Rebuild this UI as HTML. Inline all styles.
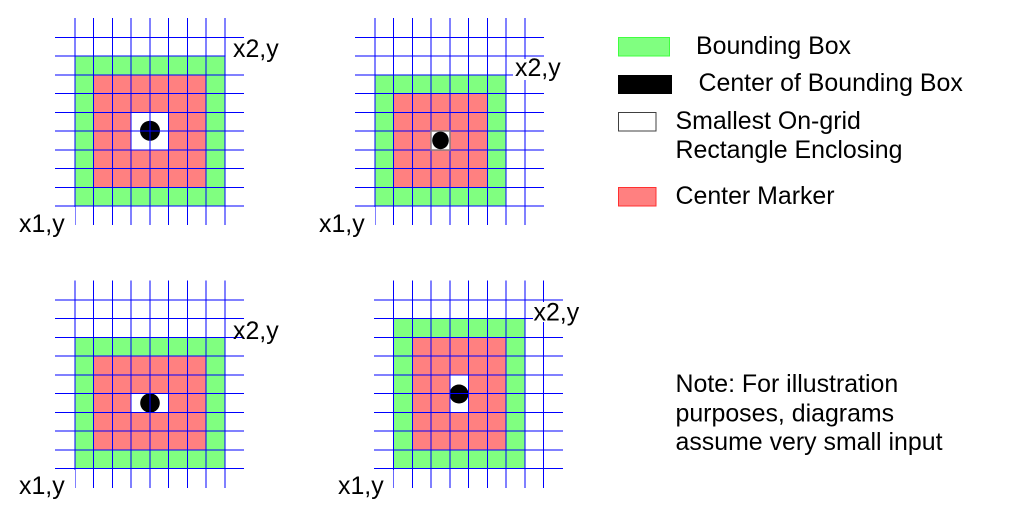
<!DOCTYPE html>
<html><head><meta charset="utf-8"><style>
html,body{margin:0;padding:0;background:#fff;width:1018px;height:509px;overflow:hidden}
svg{display:block}
text{font-family:"Liberation Sans",sans-serif;font-size:24.9px;fill:#000}
.g{fill:#80ff80}.r{fill:#ff8080}.w{fill:#fff}
.l{stroke:#0000ff;stroke-width:1;fill:none}
</style></head><body>
<svg width="1018" height="509" viewBox="0 0 1018 509" xmlns="http://www.w3.org/2000/svg">
<!-- Panel 1 -->
<rect class="g" x="75" y="56" width="150" height="150"/>
<rect class="r" x="93.5" y="75" width="112.5" height="112.5"/>
<rect class="w" x="131" y="112.5" width="37.5" height="37.5"/>
<circle cx="150" cy="130.7" r="10"/>
<path class="l" d="M75 18V225M93.5 18V225M112.5 18V225M131 18V225M150 18V225M168.5 18V225M187.5 18V225M206 18V225M225 18V225M55 37.5H244M55 56H244M55 75H244M55 93.5H244M55 112.5H244M55 131H244M55 150H244M55 168.5H244M55 187.5H244M55 206H244"/>
<!-- Panel 2 -->
<rect class="g" x="375" y="75" width="131" height="131"/>
<rect class="r" x="393.5" y="93.5" width="94" height="94"/>
<rect class="w" x="431" y="131" width="19" height="19"/>
<path class="l" d="M375 18V225M393.5 18V225M412.5 18V225M431 18V225M450 18V225M468.5 18V225M487.5 18V225M506 18V225M525 18V225M355 37.5H544M355 56H544M355 75H544M355 93.5H544M355 112.5H544M355 131H544M355 150H544M355 168.5H544M355 187.5H544M355 206H544"/>
<rect x="431" y="131" width="19" height="19" fill="none" stroke="#857a80" stroke-width="1.5"/>
<ellipse cx="440.5" cy="140.4" rx="8.3" ry="8.8"/>
<!-- Panel 3 -->
<rect class="g" x="75" y="337.5" width="150" height="131"/>
<rect class="r" x="93.5" y="356" width="112.5" height="94"/>
<rect class="w" x="131" y="393.5" width="37.5" height="19"/>
<circle cx="150" cy="403" r="9.8"/>
<path class="l" d="M75 280.5V488M93.5 280.5V488M112.5 280.5V488M131 280.5V488M150 280.5V488M168.5 280.5V488M187.5 280.5V488M206 280.5V488M225 280.5V488M55 300H244M55 318.5H244M55 337.5H244M55 356H244M55 375H244M55 393.5H244M55 412.5H244M55 431H244M55 450H244M55 468.5H244"/>
<!-- Panel 4 -->
<rect class="g" x="393.5" y="318.5" width="131" height="150"/>
<rect class="r" x="412.5" y="337.5" width="93.5" height="112.5"/>
<rect class="w" x="450" y="375" width="18.5" height="37.5"/>
<circle cx="459" cy="394" r="9.5"/>
<path class="l" d="M393.5 280.5V488M412.5 280.5V488M431 280.5V488M450 280.5V488M468.5 280.5V488M487.5 280.5V488M506 280.5V488M525 280.5V488M543.5 280.5V488M374 300H563M374 318.5H563M374 337.5H563M374 356H563M374 375H563M374 393.5H563M374 412.5H563M374 431H563M374 450H563M374 468.5H563"/>
<!-- label backgrounds -->
<rect class="w" x="225.6" y="39" width="56" height="22"/>
<rect class="w" x="513" y="59" width="50" height="21"/>
<rect class="w" x="233" y="320" width="50" height="16"/>
<rect class="w" x="533" y="302" width="48" height="20"/>
<rect class="w" x="15" y="207" width="60" height="30"/>
<rect class="w" x="315" y="207" width="60" height="30"/>
<rect class="w" x="15" y="470" width="60" height="30"/>
<rect class="w" x="334" y="470" width="59.4" height="30"/>
<!-- labels -->
<text x="233" y="57">x2,y</text>
<text x="19" y="232">x1,y</text>
<text x="515" y="76">x2,y</text>
<text x="319" y="232">x1,y</text>
<text x="233" y="339">x2,y</text>
<text x="19" y="494">x1,y</text>
<text x="533.5" y="320.5">x2,y</text>
<text x="338" y="494">x1,y</text>
<!-- legend -->
<rect x="618.5" y="37.5" width="51" height="18.5" fill="#80ff80" stroke="#40ff40"/>
<rect x="618" y="75" width="54" height="19" fill="#000"/>
<rect x="618.5" y="112.5" width="37.5" height="18.5" fill="#fff" stroke="#404040"/>
<rect x="618.5" y="187.5" width="37.5" height="18.5" fill="#ff8080" stroke="#ff3030"/>
<text x="696" y="54">Bounding Box</text>
<text x="698.5" y="91">Center of Bounding Box</text>
<text x="675.5" y="129">Smallest On-grid</text>
<text x="675.5" y="158">Rectangle Enclosing</text>
<text x="675.5" y="204">Center Marker</text>
<text x="675.5" y="392">Note: For illustration</text>
<text x="675.5" y="421.5">purposes, diagrams</text>
<text x="675.5" y="450">assume very small input</text>
</svg>
</body></html>
